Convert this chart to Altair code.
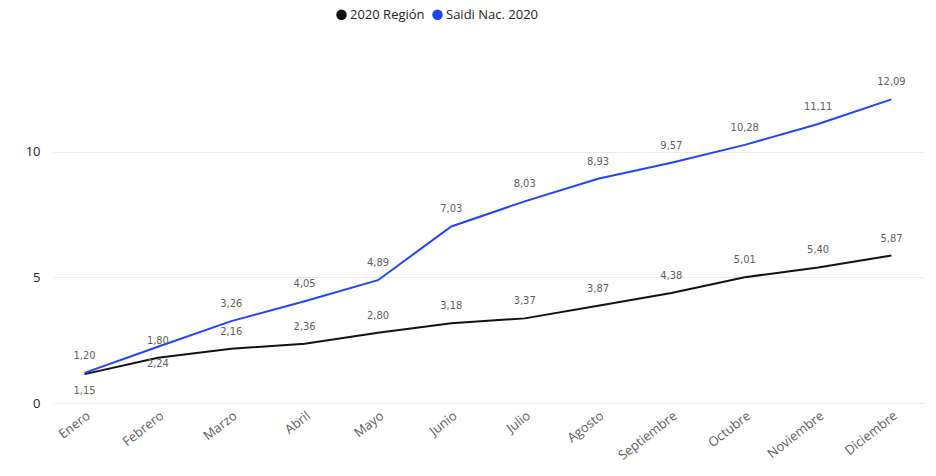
import altair as alt
import pandas as pd

meses = ["Enero", "Febrero", "Marzo", "Abril", "Mayo", "Junio", "Julio",
         "Agosto", "Septiembre", "Octubre", "Noviembre", "Diciembre"]
region_2020 = [1.15, 1.80, 2.16, 2.36, 2.80, 3.18, 3.37, 3.87, 4.38, 5.01, 5.40, 5.87]
saidi_nac_2020 = [1.20, 2.24, 3.26, 4.05, 4.89, 7.03, 8.03, 8.93, 9.57, 10.28, 11.11, 12.09]
# label side for each point ("arriba" = above, "abajo" = below)
lado_region = ["abajo"] + ["arriba"] * 11
lado_saidi = ["arriba", "abajo"] + ["arriba"] * 10

series = ["2020 Región", "Saidi Nac. 2020"]
codigos = ["linea_region", "linea_saidi"]
colores = ["#111111", "#1f45fc"]

rows = []
for nombre, cod, vals, lados in [(series[0], codigos[0], region_2020, lado_region),
                                 (series[1], codigos[1], saidi_nac_2020, lado_saidi)]:
    for m, v, l in zip(meses, vals, lados):
        rows.append({"mes": m, "serie": nombre, "linea": cod, "valor": v,
                     "etiqueta": f"{v:.2f}".replace(".", ","), "lado": l})
df = pd.DataFrame(rows)

x = alt.X("mes:N", sort=meses, title=None,
          scale=alt.Scale(type="point", padding=0.43),
          axis=alt.Axis(labelAngle=-38, labelFontSize=13, labelColor="#605E5C",
                        labelFont="Open Sans", domain=False, ticks=False,
                        labelPadding=6, grid=False))
y = alt.Y("valor:Q", title=None,
          scale=alt.Scale(domain=[0, 13.5], nice=False),
          axis=alt.Axis(values=[0, 5, 10], labelFontSize=13, labelColor="#252423",
                        labelFont="Open Sans", domain=False, ticks=False,
                        labelPadding=13, gridColor="#EAEAEA", gridWidth=1))

lineas = alt.Chart(df).mark_line(strokeWidth=2).encode(
    x=x, y=y,
    stroke=alt.Stroke("linea:N", sort=codigos,
                      scale=alt.Scale(domain=codigos, range=colores), legend=None))

leyenda = alt.Chart(df).transform_filter("datum.valor < 0").mark_circle(
    size=110, opacity=1).encode(
    x=x, y=y,
    color=alt.Color("serie:N", sort=series,
                    scale=alt.Scale(domain=series, range=colores),
                    legend=alt.Legend(title=None, orient="none", direction="horizontal",
                                      legendX=282, legendY=-56, symbolType="circle",
                                      symbolSize=110, symbolOpacity=1,
                                      labelFontSize=13, labelFont="Open Sans",
                                      labelColor="#252423", columnPadding=6,
                                      labelOffset=2)))

texto = dict(fontSize=11, font="DejaVu Sans Condensed", color="#605E5C")
arriba = alt.Chart(df).transform_filter(alt.datum.lado == "arriba").mark_text(
    dy=-17, **texto).encode(x=x, y=y, text="etiqueta:N")
abajo = alt.Chart(df).transform_filter(alt.datum.lado == "abajo").mark_text(
    dy=17, **texto).encode(x=x, y=y, text="etiqueta:N")

chart = (lineas + leyenda + arriba + abajo).properties(
    width=870, height=339,
    autosize=alt.AutoSizeParams(type="none"),
    padding={"left": 45, "top": 56, "right": 5, "bottom": 60},
).configure_view(stroke=None)

chart.save("out.html", embed_options={"renderer": "svg", "actions": False})
